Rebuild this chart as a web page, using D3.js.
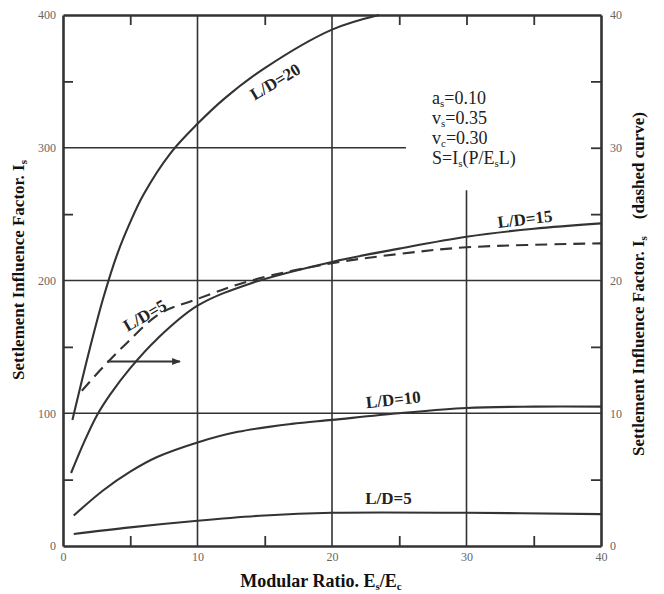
<!DOCTYPE html>
<html>
<head>
<meta charset="utf-8">
<script src="https://cdn.jsdelivr.net/npm/d3@7"></script>
<style>
  body { margin: 0; background: #fff; }
  svg { display: block; }
  .tick text { font-family: "Liberation Serif", serif; font-size: 12px; fill: #666; }
</style>
</head>
<body>
<figure id="chart" style="margin:0"></figure>
<script>
// curves (left scale unless noted)
const ld20X = [0.7, 2, 3, 4, 5, 6, 8, 10, 12, 15, 20, 23.5];
const ld20Y = [95, 149, 187, 219, 244, 265, 296, 318, 337, 360, 389, 400];
const ld15X = [0.6, 1.6, 2.5, 3.5, 5, 7, 10, 14, 20, 25, 30, 35, 40];
const ld15Y = [55, 79, 98, 114, 134, 156, 181, 198, 214, 224, 233, 239, 243];
const ld10X = [0.8, 3, 5, 7, 10, 13, 17, 20, 25, 30, 35, 40];
const ld10Y = [23, 42, 56, 67, 78, 86, 92, 95, 100, 104, 105, 105];
const ld5X = [0.8, 5, 10, 15, 20, 30, 40];
const ld5Y = [9, 14, 19, 23, 25, 25, 24];
// dashed curve, right scale
const dashX = [1.4, 3, 4.75, 7.2, 9.7, 14, 20, 25, 30, 40];
const dashY = [11.7, 13.5, 15.3, 17.5, 18.5, 20, 21.3, 22, 22.5, 22.8];

const xTicks = [0, 10, 20, 30, 40];
const yTicks = [0, 100, 200, 300, 400];
const yRTicks = [0, 10, 20, 30, 40];

const width = 664, height = 594;
const x = d3.scaleLinear().domain([0, 40]).range([63, 601]);
const y = d3.scaleLinear().domain([0, 400]).range([546, 15]);
const yR = d3.scaleLinear().domain([0, 40]).range([546, 15]);

const svg = d3.select("#chart").append("svg")
  .attr("width", width).attr("height", height);

const ink = "#333";

svg.append("defs").append("marker")
  .attr("id", "arr").attr("viewBox", "0 0 10 10")
  .attr("refX", 9).attr("refY", 5)
  .attr("markerWidth", 4).attr("markerHeight", 4)
  .attr("orient", "auto")
  .append("path").attr("d", "M0,1 L10,5 L0,9 Z").attr("fill", ink);

// grid lines (partial, like the scan)
const gridV = [[10, 0, 400], [20, 0, 400], [30, 0, 268]];
const gridH = [[100, 0, 40], [200, 0, 40], [300, 0, 25.5]];
svg.append("g").selectAll("line").data(gridV).enter().append("line")
  .attr("x1", d => x(d[0])).attr("x2", d => x(d[0]))
  .attr("y1", d => y(d[1])).attr("y2", d => y(d[2]))
  .attr("stroke", ink).attr("stroke-width", 1.6);
svg.append("g").selectAll("line").data(gridH).enter().append("line")
  .attr("x1", d => x(d[1])).attr("x2", d => x(d[2]))
  .attr("y1", d => y(d[0])).attr("y2", d => y(d[0]))
  .attr("stroke", ink).attr("stroke-width", 1.4);

// axes with inward ticks
function styleAxis(g) {
  g.select(".domain").attr("stroke", ink).attr("stroke-width", 2.6);
  g.selectAll(".tick line").attr("stroke", ink).attr("stroke-width", 1.8);
}
const noLab = () => "";

svg.append("g").attr("transform", `translate(0,${y(0)})`)
  .call(d3.axisBottom(x).tickValues(xTicks).tickSizeInner(0).tickSizeOuter(0).tickPadding(6))
  .call(styleAxis);
svg.append("g").attr("transform", `translate(0,${y(0)})`)
  .call(d3.axisBottom(x).tickValues([5, 15, 25, 35]).tickSizeInner(-10).tickSizeOuter(0).tickFormat(noLab))
  .call(g => g.select(".domain").remove()).call(styleAxis);
svg.append("g").attr("transform", `translate(0,${y(400)})`)
  .call(d3.axisTop(x).tickValues([5, 15, 25, 30, 35]).tickSizeInner(-10).tickSizeOuter(0).tickFormat(noLab))
  .call(styleAxis);

svg.append("g").attr("transform", `translate(${x(0)},0)`)
  .call(d3.axisLeft(y).tickValues(yTicks).tickSizeInner(0).tickSizeOuter(0).tickPadding(7))
  .call(styleAxis);
svg.append("g").attr("transform", `translate(${x(0)},0)`)
  .call(d3.axisLeft(y).tickValues([50, 150, 250, 350]).tickSizeInner(-10).tickSizeOuter(0).tickFormat(noLab))
  .call(g => g.select(".domain").remove()).call(styleAxis);

svg.append("g").attr("transform", `translate(${x(40)},0)`)
  .call(d3.axisRight(yR).tickValues(yRTicks).tickSizeInner(0).tickSizeOuter(0).tickPadding(9))
  .call(styleAxis);
svg.append("g").attr("transform", `translate(${x(40)},0)`)
  .call(d3.axisRight(yR).tickValues([5, 15, 25, 30, 35]).tickSizeInner(-10).tickSizeOuter(0).tickFormat(noLab))
  .call(g => g.select(".domain").remove()).call(styleAxis);

// curves
const lineL = d3.line().x(d => x(d[0])).y(d => y(d[1])).curve(d3.curveCatmullRom.alpha(0.5));
const lineR = d3.line().x(d => x(d[0])).y(d => yR(d[1])).curve(d3.curveCatmullRom.alpha(0.5));
const zip = (a, b) => a.map((v, i) => [v, b[i]]);

[[ld20X, ld20Y], [ld15X, ld15Y], [ld10X, ld10Y], [ld5X, ld5Y]].forEach(([a, b]) => {
  svg.append("path").attr("d", lineL(zip(a, b)))
    .attr("fill", "none").attr("stroke", ink).attr("stroke-width", 2.1);
});
svg.append("path").attr("d", lineR(zip(dashX, dashY)))
  .attr("fill", "none").attr("stroke", ink).attr("stroke-width", 2.1)
  .attr("stroke-dasharray", "12,7");

// arrow toward right scale
svg.append("line")
  .attr("x1", x(3.3)).attr("x2", x(8.7)).attr("y1", y(139)).attr("y2", y(139))
  .attr("stroke", ink).attr("stroke-width", 2.2).attr("marker-end", "url(#arr)");

// curve labels
const labFont = "Liberation Serif, serif";
function label(txt, px, py, rot) {
  svg.append("text").attr("transform", `translate(${px},${py}) rotate(${rot})`)
    .attr("text-anchor", "middle").attr("font-family", labFont)
    .attr("font-size", 17).attr("font-weight", "bold").attr("fill", "#222")
    .text(txt);
}
label("L/D=20", x(16.0), y(346), -31);
label("L/D=5", x(6.3), y(170), -30);
label("L/D=15", x(34.4), y(242), -7);
label("L/D=10", x(24.6), y(106), -6);
label("L/D=5", x(24.2), y(32), 0);

// parameters block
const params = [["a", "s", "=0.10"], ["v", "s", "=0.35"], ["v", "c", "=0.30"]];
params.forEach((p, i) => {
  const t = svg.append("text").attr("x", 432).attr("y", 104 + i * 20)
    .attr("font-family", labFont).attr("font-size", 18).attr("fill", "#222");
  t.append("tspan").text(p[0]);
  t.append("tspan").attr("font-size", 11).attr("dy", 3).text(p[1]);
  t.append("tspan").attr("dy", -3).text(p[2]);
});
const sT = svg.append("text").attr("x", 432).attr("y", 164)
  .attr("font-family", labFont).attr("font-size", 18).attr("fill", "#222");
sT.append("tspan").text("S=I");
sT.append("tspan").attr("font-size", 11).attr("dy", 3).text("s");
sT.append("tspan").attr("dy", -3).text("(P/E");
sT.append("tspan").attr("font-size", 11).attr("dy", 3).text("s");
sT.append("tspan").attr("dy", -3).text("L)");

// axis titles
const xt = svg.append("text").attr("x", 321).attr("y", 587).attr("text-anchor", "middle")
  .attr("font-family", labFont).attr("font-size", 18).attr("font-weight", "bold").attr("fill", "#111");
xt.append("tspan").text("Modular Ratio. E");
xt.append("tspan").attr("font-size", 11).attr("dy", 3).text("s");
xt.append("tspan").attr("dy", -3).text("/E");
xt.append("tspan").attr("font-size", 11).attr("dy", 3).text("c");

const yl = svg.append("text").attr("transform", "translate(24,270) rotate(-90)")
  .attr("text-anchor", "middle").attr("font-family", labFont).attr("font-size", 17)
  .attr("font-weight", "bold").attr("fill", "#111");
yl.append("tspan").text("Settlement Influence Factor. I");
yl.append("tspan").attr("font-size", 11).attr("dy", 3).text("s");

const yr = svg.append("text").attr("transform", "translate(644,284) rotate(-90)")
  .attr("text-anchor", "middle").attr("font-family", labFont).attr("font-size", 17)
  .attr("font-weight", "bold").attr("fill", "#111");
yr.append("tspan").text("Settlement Influence Factor. I");
yr.append("tspan").attr("font-size", 11).attr("dy", 3).text("s");
yr.append("tspan").attr("dy", -3).attr("xml:space", "preserve").text("    (dashed curve)");
</script>
</body>
</html>
